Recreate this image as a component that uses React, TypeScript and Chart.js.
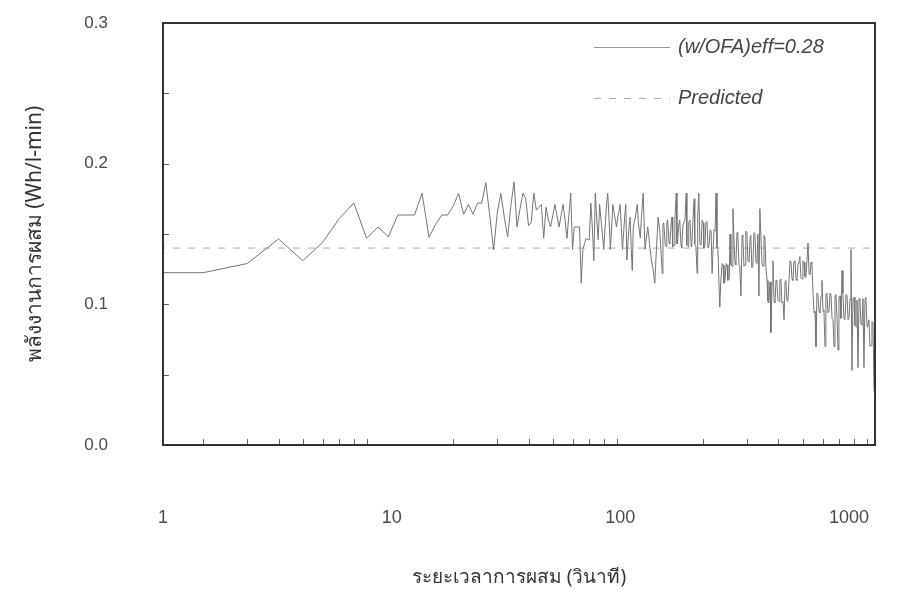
import React, { useEffect, useRef } from "react";
import { Chart, registerables } from "chart.js";

Chart.register(...registerables);

const TIME_S = [
  1, 2, 3, 4, 5, 6, 7, 8, 9, 10,
  11, 12, 13, 14, 15, 16, 17, 18, 19, 20,
  21, 22, 23, 24, 25, 26, 27, 28, 29, 30,
  31, 32, 33, 34, 35, 36, 37, 38, 39, 40,
  41, 42, 43, 44, 45, 46, 47, 48, 49, 50,
  51, 52, 53, 54, 55, 56, 57, 58, 59, 60,
  61, 62, 63, 64, 65, 66, 67, 68, 69, 70,
  71, 72, 73, 74, 75, 76, 77, 78, 79, 80,
  81, 82, 83, 84, 85, 86, 87, 88, 89, 90,
  91, 92, 93, 94, 95, 96, 97, 98, 99, 100,
  101, 102, 103, 104, 105, 107, 109, 110, 112, 113,
  115, 117, 119, 120, 122, 124, 126, 128, 130, 132,
  134, 135, 137, 138, 139, 141, 142, 143, 144, 146,
  147, 149, 150, 151, 153, 154, 156, 157, 158, 160,
  161, 163, 164, 166, 167, 169, 171, 172, 174, 175,
  177, 179, 180, 182, 184, 185, 187, 189, 190, 192,
  194, 196, 198, 200, 201, 203, 205, 207, 209, 211,
  213, 215, 217, 219, 221, 223, 225, 227, 229, 231,
  233, 235, 238, 240, 242, 244, 247, 249, 251, 254,
  256, 258, 261, 263, 265, 268, 270, 273, 275, 278,
  280, 283, 286, 288, 291, 294, 296, 299, 302, 305,
  308, 310, 313, 316, 319, 322, 325, 328, 331, 334,
  337, 340, 344, 347, 350, 353, 356, 360, 363, 366,
  370, 373, 377, 380, 384, 387, 391, 394, 398, 402,
  405, 409, 413, 417, 421, 425, 428, 432, 436, 441,
  445, 449, 453, 457, 461, 466, 470, 474, 479, 483,
  487, 492, 497, 501, 506, 510, 515, 520, 525, 530,
  535, 540, 544, 550, 555, 560, 565, 570, 575, 581,
  586, 592, 597, 603, 608, 614, 619, 625, 631, 637,
  643, 649, 655, 661, 667, 673, 679, 686, 692, 698,
  705, 711, 718, 724, 731, 738, 745, 752, 759, 766,
  773, 780, 787, 794, 802, 809, 817, 824, 832, 840,
  847, 855, 863, 871, 879, 887, 895, 904, 912, 920,
  929, 938, 946, 955, 964, 972,
];

const ENERGY = [
  0.1225, 0.1225, 0.129, 0.1465, 0.131, 0.144, 0.161, 0.172, 0.147, 0.155,
  0.148, 0.1635, 0.1635, 0.1635, 0.179, 0.1477, 0.157, 0.1635, 0.1635, 0.17,
  0.179, 0.164, 0.171, 0.164, 0.172, 0.172, 0.1865, 0.163, 0.1386, 0.165,
  0.179, 0.162, 0.148, 0.17, 0.187, 0.155, 0.168, 0.179, 0.175, 0.156,
  0.158, 0.179, 0.167, 0.169, 0.171, 0.147, 0.169, 0.16, 0.155, 0.163,
  0.171, 0.163, 0.155, 0.163, 0.171, 0.16, 0.147, 0.163, 0.179, 0.139,
  0.155, 0.155, 0.155, 0.155, 0.115, 0.139, 0.143, 0.147, 0.146, 0.146,
  0.172, 0.155, 0.131, 0.179, 0.16, 0.146, 0.171, 0.16, 0.15, 0.139,
  0.155, 0.17, 0.179, 0.16, 0.139, 0.155, 0.171, 0.165, 0.16, 0.155,
  0.162, 0.166, 0.171, 0.155, 0.139, 0.15, 0.162, 0.171, 0.1315, 0.145,
  0.155, 0.162, 0.14, 0.124, 0.155, 0.162, 0.171, 0.158, 0.147, 0.16,
  0.179, 0.139, 0.15, 0.155, 0.143, 0.1315, 0.125, 0.115, 0.14, 0.162,
  0.152, 0.143, 0.122, 0.157, 0.158, 0.142, 0.141, 0.158, 0.16, 0.144,
  0.143, 0.159, 0.162, 0.141, 0.142, 0.16, 0.179, 0.143, 0.145, 0.158,
  0.16, 0.142, 0.14, 0.157, 0.158, 0.16, 0.179, 0.142, 0.141, 0.158,
  0.16, 0.141, 0.143, 0.16, 0.175, 0.143, 0.141, 0.122, 0.162, 0.179,
  0.143, 0.142, 0.16, 0.158, 0.14, 0.141, 0.158, 0.159, 0.14, 0.142,
  0.153, 0.152, 0.122, 0.14, 0.153, 0.152, 0.179, 0.14, 0.139, 0.117,
  0.098, 0.116, 0.129, 0.128, 0.115, 0.116, 0.129, 0.128, 0.117, 0.118,
  0.15, 0.128, 0.127, 0.168, 0.149, 0.13, 0.128, 0.151, 0.15, 0.128,
  0.127, 0.106, 0.149, 0.148, 0.127, 0.128, 0.152, 0.151, 0.131, 0.13,
  0.148, 0.149, 0.126, 0.127, 0.151, 0.15, 0.13, 0.129, 0.15, 0.106,
  0.168, 0.149, 0.128, 0.127, 0.149, 0.148, 0.127, 0.117, 0.102, 0.101,
  0.116, 0.08, 0.115, 0.131, 0.102, 0.101, 0.117, 0.116, 0.103, 0.102,
  0.117, 0.118, 0.101, 0.102, 0.089, 0.116, 0.117, 0.103, 0.102, 0.118,
  0.131, 0.13, 0.118, 0.117, 0.13, 0.131, 0.118, 0.117, 0.129, 0.13,
  0.134, 0.119, 0.118, 0.131, 0.13, 0.12, 0.119, 0.131, 0.1436, 0.122,
  0.121, 0.13, 0.129, 0.107, 0.094, 0.095, 0.07, 0.108, 0.107, 0.095,
  0.094, 0.106, 0.117, 0.095, 0.096, 0.07, 0.107, 0.108, 0.094, 0.095,
  0.108, 0.107, 0.09, 0.089, 0.07, 0.106, 0.107, 0.09, 0.0675, 0.105,
  0.106, 0.09, 0.124, 0.108, 0.09, 0.089, 0.107, 0.106, 0.089, 0.09,
  0.104, 0.139, 0.053, 0.104, 0.105, 0.085, 0.084, 0.103, 0.055, 0.104,
  0.103, 0.086, 0.085, 0.104, 0.055, 0.103, 0.105, 0.084, 0.085, 0.089,
  0.07, 0.071, 0.088, 0.087, 0.04, 0.035,
];

const PRED_TIME = [1, 1000];
const PRED_ENERGY = [0.14, 0.14];

const SERIES_LABELS = ["(w/OFA)eff=0.28", "Predicted"];
const X_TICK_LABELS = [1, 10, 100, 1000];
const X_MINOR = [2, 3, 4, 5, 6, 7, 8, 9, 20, 30, 40, 50, 60, 70, 80, 90, 200, 300, 400, 500, 600, 700, 800, 900];
const Y_TICKS = [0, 0.1, 0.2, 0.3];
const Y_MINOR = [0.05, 0.15, 0.25];
const X_TITLE = "ระยะเวลาการผสม (วินาที)";
const Y_TITLE = "พลังงานการผสม (Wh/l-min)";

const SANS = '"Liberation Sans", Arial, Helvetica, sans-serif';
const THAI = '"Noto Sans", "DejaVu Sans", "Liberation Sans", sans-serif';

const zeroPad = (s: any) => {
  s.paddingLeft = 0;
  s.paddingRight = 0;
  s.paddingTop = 0;
  s.paddingBottom = 0;
};

const framePlugin = {
  id: "frameTicks",
  afterDatasetsDraw(chart: any) {
    const { ctx, chartArea: a, scales } = chart;
    const xs = scales.x;
    const ys = scales.y;
    ctx.save();
    ctx.strokeStyle = "#666";
    ctx.lineWidth = 1;
    ctx.beginPath();
    for (const v of X_MINOR) {
      const px = Math.round(xs.getPixelForValue(v)) + 0.5;
      if (px < a.left || px > a.right) continue;
      ctx.moveTo(px, a.bottom);
      ctx.lineTo(px, a.bottom - 6);
    }
    for (const v of [...Y_TICKS, ...Y_MINOR]) {
      const py = Math.round(ys.getPixelForValue(v)) + 0.5;
      ctx.moveTo(a.left, py);
      ctx.lineTo(a.left + 6, py);
    }
    ctx.stroke();
    ctx.strokeStyle = "#333";
    ctx.lineWidth = 2;
    ctx.strokeRect(a.left, a.top, a.right - a.left, a.bottom - a.top);
    ctx.restore();
  },
};

const legendPlugin = {
  id: "insideLegend",
  afterDraw(chart: any) {
    const { ctx, chartArea: a } = chart;
    ctx.save();
    ctx.font = `italic 20px ${SANS}`;
    ctx.textBaseline = "middle";
    ctx.textAlign = "left";
    chart.data.datasets.forEach((ds: any, i: number) => {
      const yy = Math.round(a.top + 24 + i * 51) + 0.5;
      const x0 = a.right - 281;
      ctx.strokeStyle = i === 0 ? "#999" : ds.borderColor;
      ctx.lineWidth = 1;
      ctx.setLineDash(ds.borderDash || []);
      ctx.beginPath();
      ctx.moveTo(x0, yy);
      ctx.lineTo(x0 + 76, yy);
      ctx.stroke();
      ctx.setLineDash([]);
      ctx.fillStyle = "#444";
      ctx.fillText(ds.label, x0 + 84, yy);
    });
    ctx.restore();
  },
};

export default function App() {
  const ref = useRef<HTMLCanvasElement | null>(null);

  useEffect(() => {
    if (!ref.current) return;
    const chart = new Chart(ref.current, {
      type: "line",
      data: {
        datasets: [
          {
            label: SERIES_LABELS[0],
            data: TIME_S.map((t, i) => ({ x: t, y: ENERGY[i] })),
            borderColor: "#747474",
            borderWidth: 1,
            pointRadius: 0,
            tension: 0,
            fill: false,
          },
          {
            label: SERIES_LABELS[1],
            data: PRED_TIME.map((t, i) => ({ x: t, y: PRED_ENERGY[i] })),
            borderColor: "#aaaaaa",
            borderDash: [7, 8],
            borderWidth: 1,
            pointRadius: 0,
            fill: false,
          },
        ],
      },
      options: {
        responsive: false,
        animation: false,
        layout: { padding: { top: 23, right: 30, left: 0, bottom: 0 } },
        plugins: { legend: { display: false }, tooltip: { enabled: false } },
        scales: {
          x: {
            type: "logarithmic",
            min: 1.38,
            max: 973,
            display: false,
            ticks: { display: false },
            afterFit: (s: any) => {
              s.height = 0;
              zeroPad(s);
            },
          },
          xl: {
            type: "logarithmic",
            position: "bottom",
            min: 1,
            max: 1300,
            grid: { display: false },
            border: { display: false },
            afterBuildTicks: (s: any) => {
              s.ticks = X_TICK_LABELS.map((v) => ({ value: v }));
            },
            ticks: {
              autoSkip: false,
              maxRotation: 0,
              minRotation: 0,
              padding: 54,
              color: "#4a4a4a",
              font: { family: SANS, size: 18 },
              callback: (v: any) => String(v),
            },
            title: {
              display: true,
              text: X_TITLE,
              color: "#333",
              font: { family: THAI, size: 19 },
              padding: { top: 0, bottom: 10 },
            },
            afterFit: (s: any) => {
              s.height = 154;
              zeroPad(s);
            },
          },
          y: {
            type: "linear",
            position: "left",
            min: 0,
            max: 0.3,
            grid: { display: false },
            border: { display: false },
            afterBuildTicks: (s: any) => {
              s.ticks = Y_TICKS.map((v) => ({ value: v }));
            },
            ticks: {
              padding: 47,
              color: "#4a4a4a",
              font: { family: SANS, size: 17 },
              callback: (v: any) => Number(v).toFixed(1),
            },
            title: {
              display: true,
              text: Y_TITLE,
              color: "#333",
              font: { family: THAI, size: 21 },
              padding: { top: 22, bottom: 0 },
            },
            afterFit: (s: any) => {
              s.width = 163;
              zeroPad(s);
            },
          },
        },
      } as any,
      plugins: [framePlugin, legendPlugin],
    });
    return () => chart.destroy();
  }, []);

  return (
    <div style={{ position: "absolute", left: 0, top: 0, width: 905, height: 599, background: "#fff" }}>
      <canvas ref={ref} width={905} height={599} style={{ display: "block" }} />
    </div>
  );
}
